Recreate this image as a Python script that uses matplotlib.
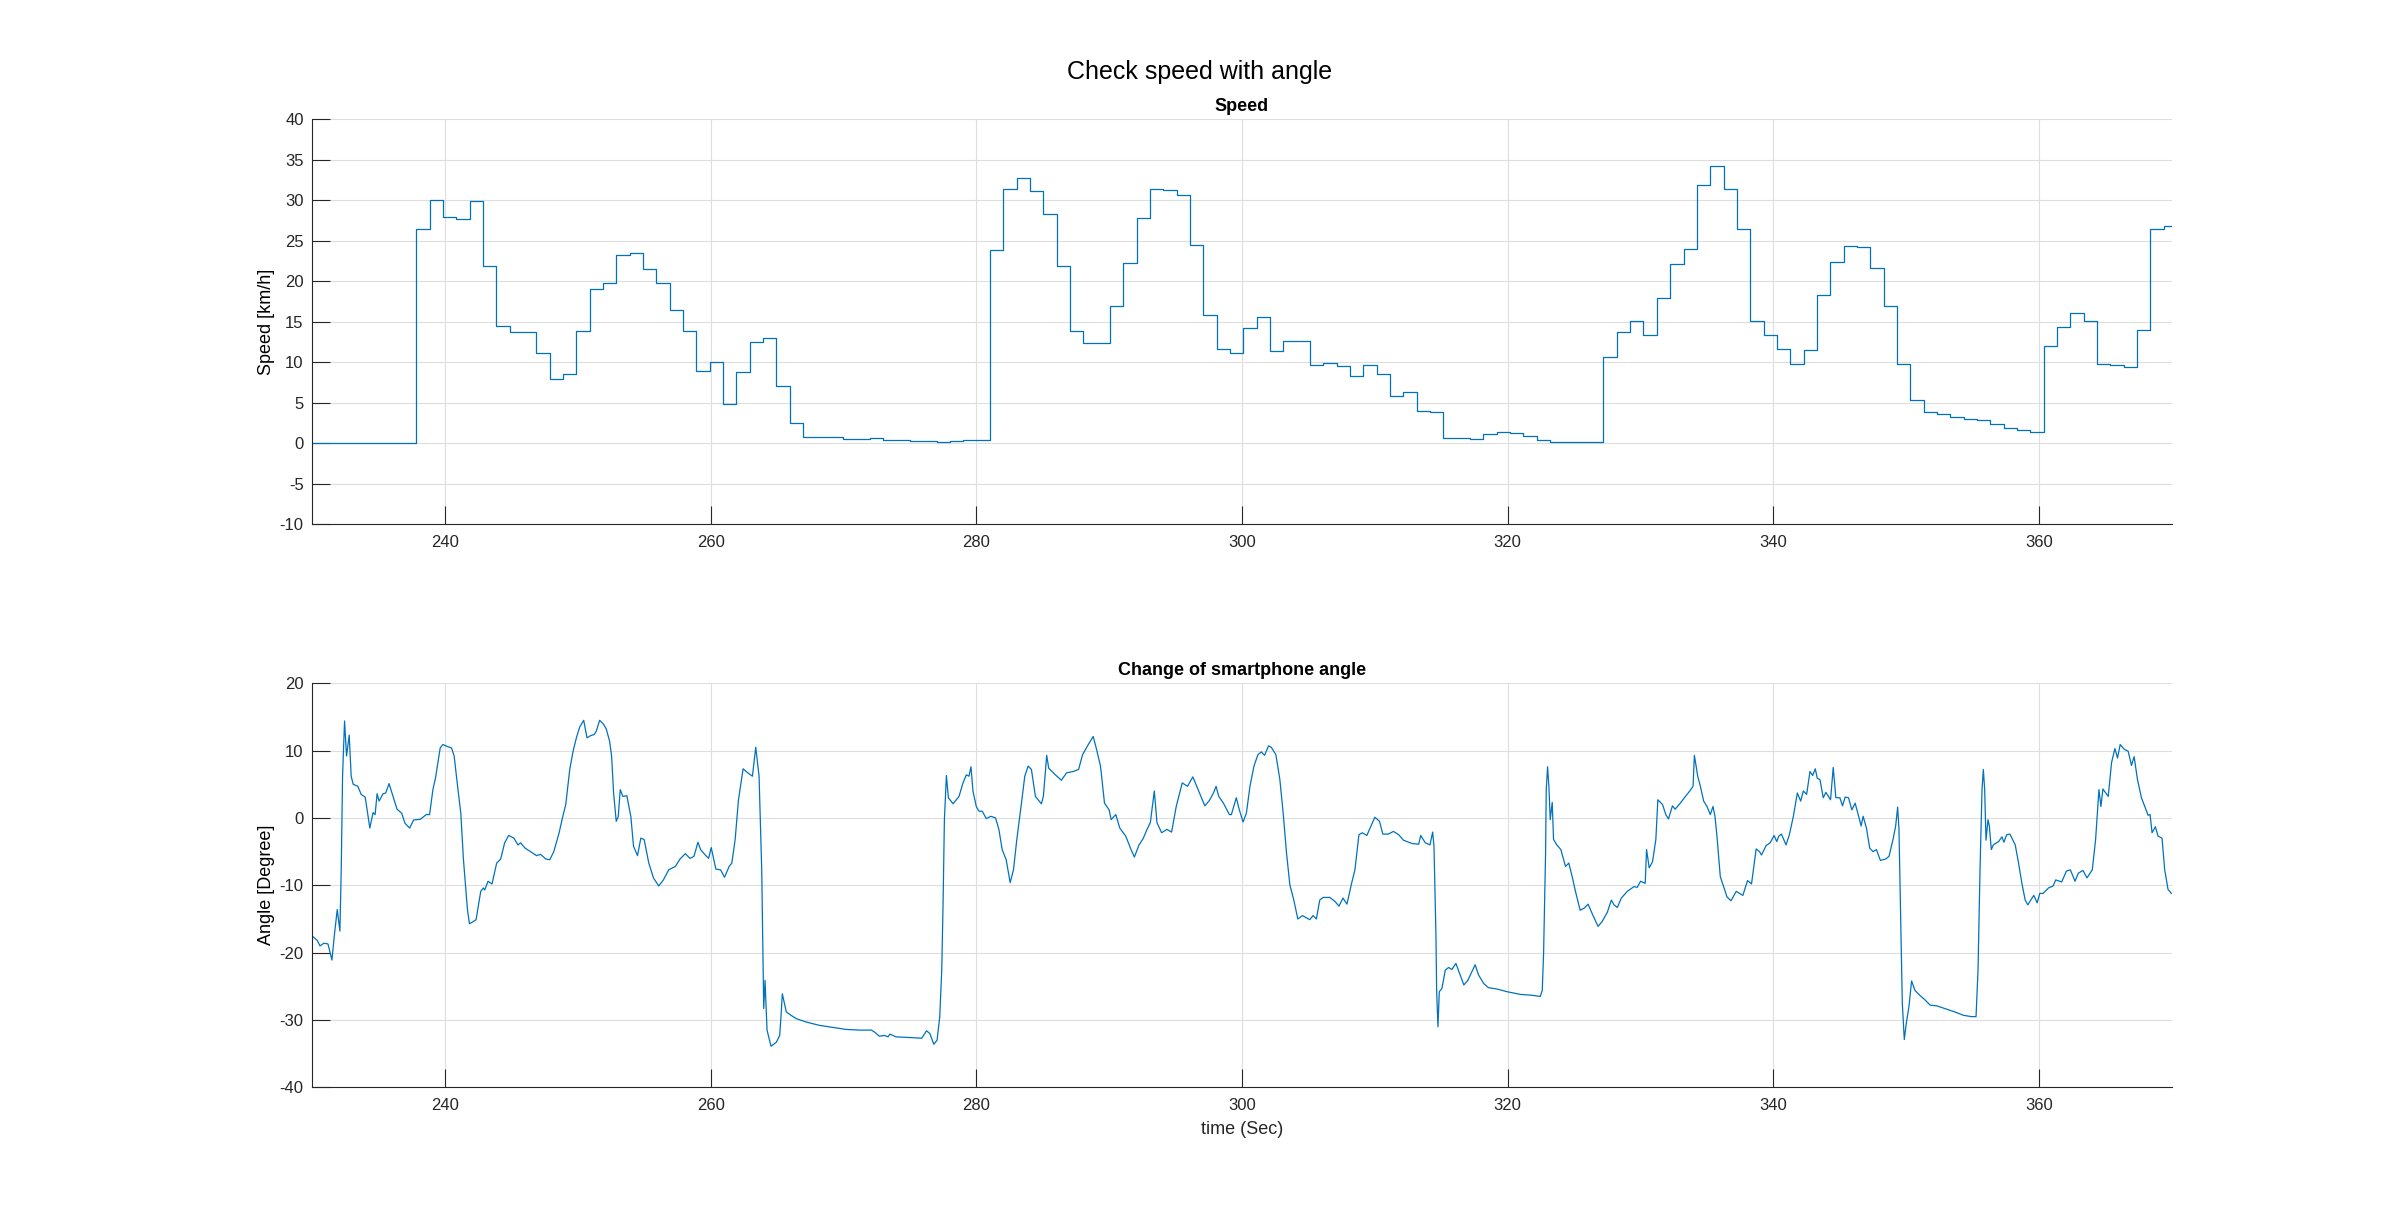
import numpy as np
import matplotlib
matplotlib.use("Agg")
import matplotlib.pyplot as plt

plt.rcParams['font.family'] = ['Liberation Sans', 'DejaVu Sans']
plt.rcParams['axes.unicode_minus'] = False

# ---------------------------------------------------------
# speed from GPS, one sample per ~1 s, drawn as stairs
# ---------------------------------------------------------
speed_start = 229.82
speed_dt = 1.004
speed_kmh = [
    0, 0, 0, 0, 0, 0, 0, 0,
    26.4, 30.0, 27.9, 27.7, 29.9, 21.85, 14.5, 13.7, 13.7, 11.2,
    7.9, 8.5, 13.9, 19.05, 19.75, 23.2, 23.5, 21.5, 19.8, 16.5,
    13.9, 8.9, 10.1, 4.9, 8.8, 12.55, 12.96, 7.1, 2.5, 0.78,
    0.78, 0.82, 0.5, 0.58, 0.62, 0.41, 0.45, 0.33, 0.33, 0.2,
    0.25, 0.45, 0.41,
    23.9, 31.4, 32.8, 31.1, 28.3, 21.85, 13.9, 12.4, 12.4, 17.0,
    22.3, 27.8, 31.4, 31.3, 30.6, 24.5, 15.8, 11.7, 11.1, 14.2,
    15.6, 11.4, 12.6, 12.6, 9.7, 9.9, 9.6, 8.3, 9.7, 8.6,
    5.8, 6.3, 4.0, 3.9, 0.66, 0.62, 0.53, 1.1, 1.44, 1.3,
    0.9, 0.41, 0.2, 0.2, 0.12, 0.2,
    10.6, 13.7, 15.1, 13.4, 17.9, 22.1, 24.0, 31.9, 34.2, 31.4,
    26.5, 15.1, 13.4, 11.7, 9.75, 11.5, 18.3, 22.4, 24.4, 24.2,
    21.6, 17.0, 9.75, 5.4, 3.9, 3.66, 3.3, 2.96, 2.84, 2.43,
    1.93, 1.6, 1.36, 12.06, 14.4, 16.05, 15.1, 9.75, 9.7, 9.4,
    14.0, 26.5, 26.8, 26.8,
]
speed_time = speed_start + speed_dt * np.arange(len(speed_kmh))

# ---------------------------------------------------------
# smartphone angle
# ---------------------------------------------------------
angle_time = [
    230.06, 230.4, 230.6, 230.9, 231.2, 231.35, 231.5, 231.7, 231.9, 232.1,
    232.2, 232.3, 232.45, 232.6, 232.8, 232.95, 233.1, 233.45, 233.7, 234.0,
    234.15, 234.35, 234.6, 234.75, 234.9, 235.05, 235.35, 235.55, 235.8, 236.05,
    236.4, 236.75, 237.0, 237.35, 237.65, 238.15, 238.6, 238.85, 239.1, 239.3,
    239.65, 239.85, 240.2, 240.5, 240.7, 240.9, 241.2, 241.4, 241.7, 241.85,
    242.05, 242.35, 242.7, 242.9, 243.0, 243.25, 243.55, 243.9, 244.2, 244.5,
    244.8, 245.2, 245.5, 245.7, 246.05, 246.45, 246.9, 247.2, 247.6, 247.9,
    248.2, 248.6, 248.85, 249.1, 249.4, 249.65, 249.9, 250.15, 250.45, 250.7,
    250.95, 251.25, 251.4, 251.65, 251.95, 252.15, 252.4, 252.55, 252.7, 252.9,
    253.05, 253.2, 253.4, 253.7, 254.0, 254.2, 254.5, 254.75, 255.0, 255.35,
    255.7, 256.1, 256.45, 256.85, 257.35, 257.7, 258.1, 258.45, 258.75, 259.05,
    259.25, 259.6, 259.85, 260.05, 260.4, 260.75, 261.05, 261.4, 261.6, 261.85,
    262.1, 262.45, 262.8, 263.15, 263.4, 263.65, 263.85, 264.0, 264.1, 264.25,
    264.55, 264.95, 265.2, 265.3, 265.4, 265.5, 265.7, 266.05, 266.45, 267.2,
    268.2, 269.2, 270.2, 271.2, 272.1, 272.35, 272.7, 273.1, 273.35, 273.5,
    273.95, 275.0, 275.9, 276.25, 276.5, 276.8, 277.05, 277.25, 277.4, 277.5,
    277.6, 277.75, 277.9, 278.25, 278.7, 279.0, 279.25, 279.45, 279.6, 279.75,
    280.0, 280.2, 280.45, 280.75, 281.1, 281.45, 281.7, 281.95, 282.25, 282.55,
    282.8, 283.05, 283.4, 283.65, 283.9, 284.15, 284.45, 284.9, 285.05, 285.3,
    285.45, 285.9, 286.4, 286.8, 287.3, 287.7, 288.0, 288.4, 288.8, 289.05,
    289.35, 289.65, 290.0, 290.15, 290.5, 290.8, 291.25, 291.65, 291.9, 292.25,
    292.55, 292.85, 293.1, 293.4, 293.6, 293.95, 294.35, 294.7, 295.05, 295.5,
    295.9, 296.3, 296.7, 297.2, 297.55, 297.85, 298.05, 298.25, 298.6, 299.05,
    299.2, 299.57, 299.8, 300.08, 300.33, 300.6, 300.9, 301.2, 301.45, 301.7,
    302.0, 302.2, 302.55, 302.85, 303.1, 303.35, 303.6, 303.9, 304.2, 304.55,
    305.1, 305.35, 305.6, 305.85, 306.1, 306.6, 307.0, 307.3, 307.6, 307.9,
    308.25, 308.5, 308.8, 309.05, 309.4, 309.75, 310.0, 310.35, 310.6, 311.0,
    311.4, 311.8, 312.15, 312.8, 313.3, 313.45, 313.8, 314.15, 314.35, 314.45,
    314.6, 314.65, 314.75, 314.85, 315.05, 315.3, 315.55, 315.8, 316.1, 316.4,
    316.7, 317.0, 317.55, 317.8, 318.2, 318.55, 319.2, 319.95, 320.95, 321.7,
    322.45, 322.6, 322.7, 322.85, 322.9, 323.0, 323.1, 323.2, 323.35, 323.45,
    323.7, 324.0, 324.35, 324.6, 324.85, 325.1, 325.45, 325.75, 326.05, 326.4,
    326.8, 327.1, 327.5, 327.8, 328.0, 328.25, 328.55, 329.0, 329.5, 329.75,
    330.0, 330.35, 330.45, 330.65, 330.9, 331.15, 331.3, 331.65, 331.9, 332.1,
    332.4, 332.6, 332.95, 333.3, 333.7, 333.95, 334.05, 334.3, 334.5, 334.75,
    335.0, 335.25, 335.45, 335.6, 335.75, 336.0, 336.25, 336.5, 336.8, 337.2,
    337.7, 338.05, 338.35, 338.7, 338.95, 339.1, 339.45, 339.75, 340.05, 340.25,
    340.4, 340.6, 340.95, 341.2, 341.5, 341.8, 342.05, 342.25, 342.5, 342.75,
    342.95, 343.15, 343.3, 343.5, 343.75, 343.95, 344.3, 344.5, 344.7, 345.0,
    345.2, 345.4, 345.65, 345.9, 346.15, 346.4, 346.6, 346.75, 347.0, 347.25,
    347.5, 347.75, 348.05, 348.45, 348.7, 349.0, 349.2, 349.35, 349.45, 349.6,
    349.7, 349.85, 350.0, 350.2, 350.4, 350.65, 351.0, 351.4, 351.8, 352.3,
    353.05, 353.65, 354.3, 354.9, 355.25, 355.4, 355.55, 355.7, 355.8, 355.9,
    356.0, 356.15, 356.25, 356.4, 356.55, 356.95, 357.2, 357.35, 357.55, 357.8,
    358.2, 358.45, 358.7, 358.95, 359.15, 359.4, 359.6, 359.85, 360.05, 360.3,
    360.7, 361.05, 361.25, 361.7, 362.05, 362.35, 362.7, 362.95, 363.3, 363.6,
    364.0, 364.25, 364.5, 364.65, 364.8, 365.2, 365.45, 365.7, 365.9, 366.1,
    366.4, 366.7, 366.95, 367.15, 367.4, 367.7, 367.95, 368.2, 368.35, 368.5,
    368.75, 368.95, 369.25, 369.45, 369.7, 369.95,
]
angle_deg = [
    -17.6, -18.2, -19.0, -18.6, -18.7, -19.9, -21.1, -17.1, -13.6, -16.8,
    -7.7, 6.2, 14.4, 9.2, 12.3, 6.2, 5.0, 4.7, 3.5, 3.1,
    1.2, -1.5, 0.8, 0.5, 3.6, 2.5, 3.6, 3.7, 5.1, 3.5,
    1.3, 0.7, -0.8, -1.5, -0.3, -0.2, 0.5, 0.5, 4.2, 6.0,
    10.4, 10.9, 10.6, 10.4, 9.2, 5.7, 0.7, -6.2, -13.6, -15.7,
    -15.5, -15.1, -10.9, -10.4, -10.7, -9.4, -9.8, -6.7, -6.1, -3.7,
    -2.6, -3.0, -4.0, -3.7, -4.5, -5.0, -5.6, -5.4, -6.1, -6.2,
    -5.0, -2.2, 0.0, 2.0, 7.2, 9.9, 11.9, 13.5, 14.5, 11.9,
    12.2, 12.4, 12.9, 14.5, 13.9, 13.2, 11.4, 9.2, 3.7, -0.5,
    0.2, 4.2, 3.2, 3.3, 0.2, -4.2, -5.6, -3.0, -3.2, -6.7,
    -8.9, -10.1, -9.2, -7.7, -7.2, -6.1, -5.3, -6.0, -5.7, -3.6,
    -4.7, -5.5, -6.0, -4.4, -7.6, -7.7, -8.8, -7.2, -6.7, -3.2,
    2.7, 7.3, 6.7, 6.2, 10.5, 6.2, -7.7, -28.3, -24.1, -31.5,
    -33.9, -33.3, -32.3, -29.5, -26.1, -27.0, -28.8, -29.3, -29.8, -30.3,
    -30.8, -31.1, -31.4, -31.5, -31.5, -31.8, -32.4, -32.3, -32.5, -32.1,
    -32.5, -32.6, -32.7, -31.6, -32.0, -33.6, -33.0, -29.5, -22.6, -12.7,
    -0.25, 6.3, 3.0, 2.1, 3.2, 5.2, 6.4, 6.2, 7.6, 4.0,
    1.7, 1.0, 1.0, -0.1, 0.25, 0.0, -1.7, -4.7, -6.2, -9.6,
    -7.7, -3.2, 2.2, 6.2, 7.7, 7.2, 3.2, 2.1, 3.2, 9.3,
    7.4, 6.5, 5.6, 6.7, 6.9, 7.2, 9.4, 10.8, 12.1, 10.2,
    7.7, 2.2, 1.2, -0.25, 0.5, -1.5, -2.7, -4.7, -5.8, -4.0,
    -3.1, -1.7, -0.7, 4.0, -0.7, -2.2, -1.7, -2.1, 1.7, 5.2,
    4.7, 6.1, 4.2, 1.8, 2.6, 3.7, 4.7, 3.2, 2.2, 0.5,
    0.5, 3.0, 1.2, -0.6, 0.7, 4.7, 7.7, 9.4, 9.8, 9.3,
    10.7, 10.5, 9.4, 5.7, 0.7, -5.2, -9.9, -12.2, -15.0, -14.5,
    -15.1, -14.5, -15.0, -12.2, -11.8, -11.8, -12.4, -13.1, -11.9, -12.8,
    -9.7, -7.7, -2.5, -2.2, -2.6, -1.0, 0.1, -0.5, -2.4, -2.4,
    -2.0, -2.5, -3.3, -3.8, -3.9, -2.6, -3.7, -4.0, -2.1, -4.2,
    -17.6, -25.6, -31.0, -25.8, -25.3, -22.6, -22.2, -22.5, -21.6, -23.2,
    -24.8, -24.1, -21.8, -23.3, -24.6, -25.2, -25.4, -25.8, -26.2, -26.3,
    -26.5, -25.6, -20.1, -5.2, 4.2, 7.6, 4.7, -0.25, 2.3, -3.2,
    -4.0, -4.7, -7.2, -6.7, -8.7, -10.9, -13.7, -13.4, -12.8, -14.4,
    -16.1, -15.4, -14.0, -12.2, -12.9, -13.3, -11.9, -10.9, -10.2, -10.3,
    -9.4, -9.7, -4.7, -7.4, -6.5, -3.2, 2.7, 2.0, 0.5, -0.15,
    1.8, 1.3, 2.1, 3.0, 4.0, 4.7, 9.3, 6.2, 4.7, 2.5,
    1.7, 0.5, 1.7, 0.25, -2.7, -8.7, -10.2, -11.7, -12.3, -10.9,
    -11.5, -9.3, -9.8, -4.6, -5.0, -5.5, -4.1, -3.7, -2.6, -3.5,
    -2.7, -2.4, -4.0, -2.5, 0.25, 3.7, 2.5, 4.0, 3.5, 6.9,
    6.3, 7.3, 5.9, 5.7, 3.0, 3.8, 2.7, 7.5, 3.0, 3.0,
    1.8, 3.1, 3.0, 1.2, 2.2, 0.35, -1.2, 0.25, -1.5, -4.5,
    -5.0, -4.7, -6.3, -6.1, -5.7, -3.2, -1.2, 1.6, -1.7, -17.6,
    -27.5, -32.9, -30.5, -28.0, -24.2, -25.6, -26.3, -27.0, -27.8, -27.9,
    -28.4, -28.8, -29.3, -29.5, -29.5, -22.6, -7.7, 4.2, 7.2, 4.2,
    -3.3, -0.25, -1.2, -4.7, -4.0, -3.5, -2.8, -3.6, -2.5, -2.4,
    -4.0, -6.7, -9.7, -12.2, -12.9, -12.1, -11.5, -12.6, -11.2, -11.2,
    -10.4, -10.1, -9.2, -9.5, -7.9, -7.7, -9.4, -8.2, -7.8, -8.9,
    -7.7, -3.2, 4.2, 1.7, 4.3, 3.2, 8.2, 10.3, 8.9, 10.9,
    10.2, 9.9, 7.8, 9.1, 5.7, 3.0, 1.7, 0.4, 0.5, -2.2,
    -1.3, -2.7, -3.0, -7.7, -10.6, -11.2,
]

x_ticks = [240, 260, 280, 300, 320, 340, 360]
speed_ticks = [-10, -5, 0, 5, 10, 15, 20, 25, 30, 35, 40]
angle_ticks = [-40, -30, -20, -10, 0, 10, 20]

line_color = '#0072BD'
axis_color = '#262626'


def style_axes(ax, yticks):
    ax.set_xlim(230, 370)
    ax.set_xticks(x_ticks)
    ax.set_ylim(yticks[0], yticks[-1])
    ax.set_yticks(yticks)
    ax.grid(True, color='#dedede', linewidth=0.8)
    ax.set_axisbelow(True)
    for side in ['top', 'right']:
        ax.spines[side].set_visible(False)
    for side in ['left', 'bottom']:
        ax.spines[side].set_color(axis_color)
        ax.spines[side].set_linewidth(0.8)
    ax.tick_params(direction='in', length=13, width=0.8, color=axis_color,
                   labelcolor=axis_color, labelsize=12)
    ax.tick_params(axis='x', pad=8)
    ax.tick_params(axis='y', pad=6)


fig = plt.figure(figsize=(24, 12.19), dpi=100)

ax1 = fig.add_axes([0.130, 0.5699, 0.775, 0.3322])
ax1.step(speed_time, speed_kmh, where='post', color=line_color, linewidth=0.9)
style_axes(ax1, speed_ticks)
ax1.set_title('Speed', fontsize=13, fontweight='bold', pad=6)
ax1.set_ylabel('Speed [km/h]', fontsize=13)
ax1.yaxis.set_label_coords(-0.020, 0.5)

ax2 = fig.add_axes([0.130, 0.1080, 0.775, 0.3315])
ax2.plot(angle_time, angle_deg, color=line_color, linewidth=0.9)
style_axes(ax2, angle_ticks)
ax2.set_title('Change of smartphone angle', fontsize=13, fontweight='bold', pad=6)
ax2.set_ylabel('Angle [Degree]', fontsize=13)
ax2.yaxis.set_label_coords(-0.020, 0.5)
ax2.set_xlabel('time (Sec)', fontsize=13, color=axis_color)
ax2.xaxis.set_label_coords(0.5, -0.083)

fig.text(0.5, 0.941, 'Check speed with angle', ha='center', va='center', fontsize=18)

fig.savefig('out.png', dpi=100)
